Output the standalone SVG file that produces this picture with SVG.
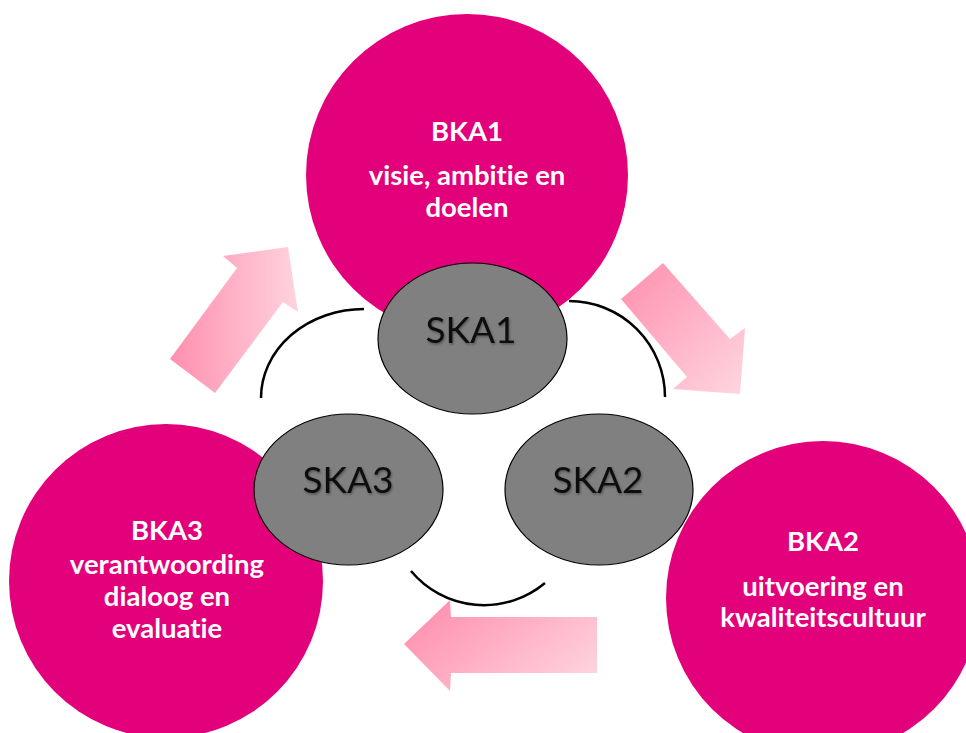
<svg xmlns="http://www.w3.org/2000/svg" width="966" height="733" viewBox="0 0 966 733">
  <defs>
    <linearGradient id="gUp" x1="0" y1="0" x2="1" y2="0">
      <stop offset="0" stop-color="#ff8fae"/>
      <stop offset="1" stop-color="#ffd3df"/>
    </linearGradient>
    <linearGradient id="gDown" x1="0" y1="0" x2="1" y2="1">
      <stop offset="0" stop-color="#ff8fae"/>
      <stop offset="1" stop-color="#ffd6e1"/>
    </linearGradient>
    <linearGradient id="gLeft" x1="0" y1="0.2" x2="1" y2="0.8">
      <stop offset="0" stop-color="#ff8fae"/>
      <stop offset="1" stop-color="#ffd3df"/>
    </linearGradient>
    <filter id="shadow" x="-20%" y="-20%" width="140%" height="140%">
      <feDropShadow dx="1" dy="1.5" stdDeviation="1.2" flood-color="#000" flood-opacity="0.35"/>
    </filter>
    <style>
      .big { fill: #e3007b; }
      .small { fill: #808080; stroke: #000; stroke-width: 1.2; }
      .bt { font-family: Lato, "Open Sans", "Liberation Sans", sans-serif; font-weight: bold; font-size: 27.5px; fill: #ffffff; text-anchor: middle; font-variant-ligatures: none; }
      .st { font-family: Lato, "Open Sans", "Liberation Sans", sans-serif; font-size: 37px; fill: #111; text-anchor: middle; filter: url(#shadow); }
      .arc { fill: none; stroke: #000; stroke-width: 2.5; }
    </style>
  </defs>
  <rect width="966" height="733" fill="#ffffff"/>

  <g id="BKA1">
    <circle class="big" cx="467" cy="175" r="161"/>
    <text class="bt" x="467" y="141">BKA1</text>
    <text class="bt" x="467" y="185">visie, ambitie en</text>
    <text class="bt" x="467" y="217">doelen</text>
  </g>
  <g id="BKA3">
    <circle class="big" cx="166" cy="581" r="157"/>
    <text class="bt" x="167" y="540">BKA3</text>
    <text class="bt" x="167" y="574">verantwoording</text>
    <text class="bt" x="167" y="606">dialoog en</text>
    <text class="bt" x="167" y="638">evaluatie</text>
  </g>
  <g id="BKA2">
    <circle class="big" cx="823" cy="598" r="157"/>
    <text class="bt" x="823" y="551">BKA2</text>
    <text class="bt" x="823" y="596">uitvoering en</text>
    <text class="bt" x="823" y="627">kwaliteitscultuur</text>
  </g>

  <g id="connectors">
    <path class="arc" d="M364,309 A103,89 0 0 0 261,398"/>
    <path class="arc" d="M569,301 A96,96 0 0 1 665,397"/>
    <path class="arc" d="M411,571 A95,95 0 0 0 545,583"/>
    <polygon fill="url(#gUp)" points="170,359 237,268 223,256 288,247 298,312 283,302 215,393"/>
    <polygon fill="url(#gDown)" points="621,299 663,263 730,339 745,328 740,394 673,389 687,377"/>
    <polygon fill="url(#gLeft)" points="404,644 450,600 451,617 597,617 597,673 451,673 450,691"/>
  </g>

  <g id="SKA1">
    <ellipse class="small" cx="472.5" cy="338.5" rx="94.5" ry="75.5"/>
    <text class="st" x="471" y="343">SKA1</text>
  </g>
  <g id="SKA3">
    <ellipse class="small" cx="348.5" cy="489.5" rx="94.5" ry="75.5"/>
    <text class="st" x="348" y="493">SKA3</text>
  </g>
  <g id="SKA2">
    <ellipse class="small" cx="599" cy="489.5" rx="94" ry="75.5"/>
    <text class="st" x="598" y="493">SKA2</text>
  </g>
</svg>
